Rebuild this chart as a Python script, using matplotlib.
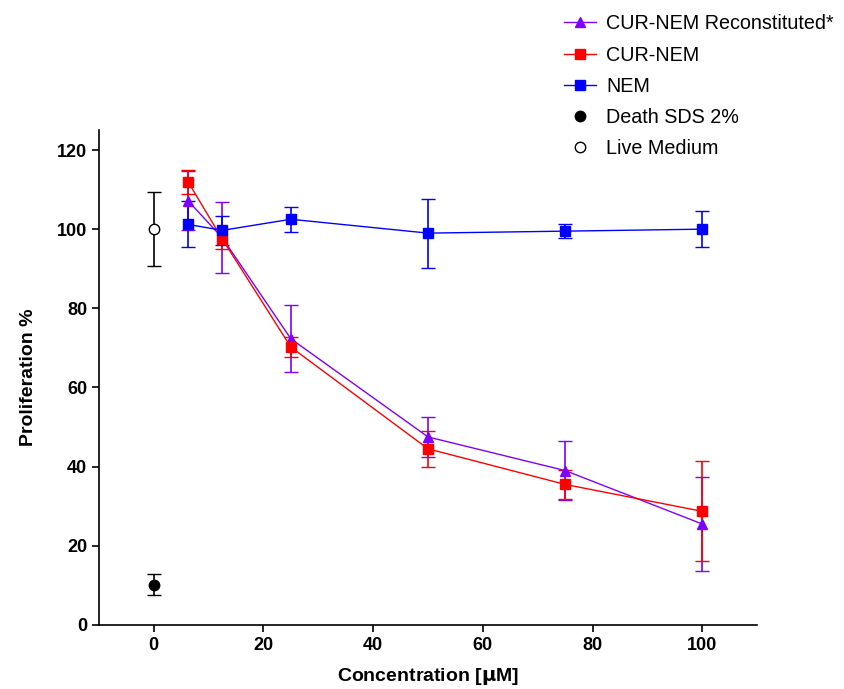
import matplotlib.pyplot as plt

plt.rcParams['font.family'] = ['Liberation Sans', 'DejaVu Sans']

conc = [6.25, 12.5, 25, 50, 75, 100]

# NEM
nem = [101.2, 99.7, 102.5, 99.0, 99.5, 100.0]
nem_err = [5.8, 3.6, 3.2, 8.7, 1.8, 4.5]

# CUR-NEM
cur = [112.0, 97.5, 70.2, 44.5, 35.5, 28.7]
cur_err = [3.0, 2.5, 2.6, 4.6, 3.6, 12.6]

# CUR-NEM Reconstituted*
rec = [107.2, 97.8, 72.3, 47.5, 39.0, 25.5]
rec_err = [7.5, 9.0, 8.5, 5.0, 7.5, 11.9]

# controls at 0
death = 10.2
death_err = 2.7
live = 100.0
live_err = 9.3

purple = '#7F00FF'
red = '#FF0000'
blue = '#0000FF'

fig = plt.figure(figsize=(8.45, 6.89), dpi=100)
ax = fig.add_axes([0.117, 0.093, 0.779, 0.718])

ax.errorbar(conc, rec, yerr=rec_err, color=purple, marker='^', markersize=7.5,
            lw=1, capsize=5, elinewidth=1.2, label='CUR-NEM Reconstituted*')
ax.errorbar(conc, cur, yerr=cur_err, color=red, marker='s', markersize=7.5,
            lw=1, capsize=5, elinewidth=1.2, label='CUR-NEM')
ax.errorbar(conc, nem, yerr=nem_err, color=blue, marker='s', markersize=7.5,
            lw=1, capsize=5, elinewidth=1.2, label='NEM')
ax.errorbar([0], [death], yerr=[death_err], color='black', marker='o', markersize=7.5,
            ls='none', capsize=5, elinewidth=1.2, label='Death SDS 2%')
ax.errorbar([0], [live], yerr=[live_err], color='black', marker='o', markersize=7.5,
            markerfacecolor='white', ls='none', capsize=5, elinewidth=1.2,
            label='Live Medium')

ax.set_xlim(-10, 110)
ax.set_ylim(0, 125)
ax.set_xticks([0, 20, 40, 60, 80, 100])
ax.set_yticks([0, 20, 40, 60, 80, 100, 120])
ax.spines['top'].set_visible(False)
ax.spines['right'].set_visible(False)
ax.spines['left'].set_linewidth(1.2)
ax.spines['bottom'].set_linewidth(1.2)
ax.tick_params(direction='out', length=5, width=1.2, labelsize=13)
for t in ax.get_xticklabels() + ax.get_yticklabels():
    t.set_fontweight('bold')

ax.set_xlabel('Concentration [$\\mathbf{\\mu}$M]', fontsize=14, fontweight='bold', labelpad=9)
ax.set_ylabel('Proliferation %', fontsize=14, fontweight='bold', labelpad=14)

handles, labels = ax.get_legend_handles_labels()
handles = [h[0] for h in handles]
fig.legend(handles, labels, loc='upper left', bbox_to_anchor=(0.646, 1.005),
           frameon=False, fontsize=14.2, handlelength=1.65, handletextpad=0.5,
           labelspacing=0.62)

fig.savefig('out.png', dpi=100)
